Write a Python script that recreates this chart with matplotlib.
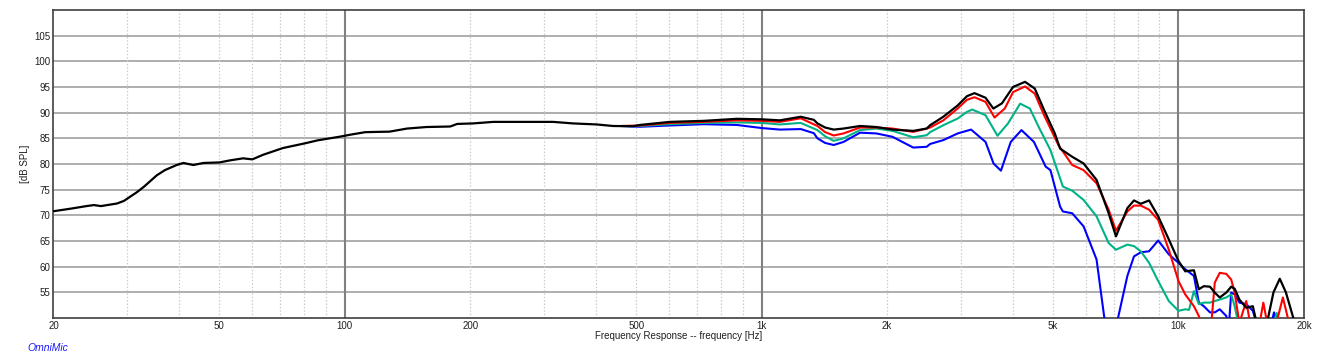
import numpy as np
import matplotlib
matplotlib.use("Agg")
import matplotlib.pyplot as plt
from matplotlib.ticker import FixedLocator, FixedFormatter, NullLocator

plt.rcParams['font.family'] = ['Liberation Sans', 'DejaVu Sans']

# black trace (full band)
black_f = [20, 22, 24, 25, 26, 28.4, 29.5, 31.7, 33, 35.4, 37, 39.5, 41, 43.3,
           45.8, 50, 53, 57, 60, 63.7, 71, 80, 86, 97, 103, 112, 128, 141, 157,
           179, 186, 203, 227, 268, 316, 353, 402, 440, 492, 510, 602, 726, 872,
           1000, 1106, 1241, 1334, 1361, 1420, 1489, 1572, 1722, 1884, 2060,
           2310, 2488, 2536, 2728, 2953, 3108, 3240, 3444, 3596, 3770, 4010,
           4284, 4520, 4760, 5050, 5200, 5560, 5920, 6360, 6800, 7080, 7540,
           7820, 8120, 8500, 8940, 9480, 10000, 10380, 10890, 11190, 11500,
           11900, 12220, 12560, 13020, 13380, 13640, 14000, 14540, 15080,
           15500, 16000, 16400, 16900, 17500, 18100, 18860, 19500, 20000]
black_db = [70.8, 71.3, 71.8, 72.0, 71.8, 72.3, 72.8, 74.5, 75.6, 77.8, 78.8,
            79.8, 80.2, 79.8, 80.2, 80.3, 80.7, 81.1, 80.9, 81.8, 83.1, 84.0,
            84.6, 85.3, 85.7, 86.2, 86.3, 86.9, 87.2, 87.3, 87.8, 87.9, 88.2,
            88.2, 88.2, 87.9, 87.7, 87.4, 87.35, 87.6, 88.2, 88.4, 88.8, 88.7,
            88.5, 89.2, 88.6, 87.9, 87.1, 86.7, 86.9, 87.4, 87.2, 86.7, 86.45,
            86.9, 87.55, 89.2, 91.4, 93.2, 93.8, 92.9, 90.8, 91.8, 95.0, 96.0,
            94.7, 90.5, 85.95, 83.0, 81.4, 80.1, 76.9, 70.4, 65.9, 71.4, 72.9,
            72.25, 72.9, 69.8, 65.3, 61.1, 59.1, 59.3, 55.6, 56.2, 56.1, 54.95,
            54.0, 54.95, 56.1, 55.7, 53.6, 52.0, 52.3, 48.0, 46.0, 50.0, 55.0,
            57.65, 55.0, 50.0, 46.0, 45.0]

red_f = [460, 510, 602, 726, 872, 1000, 1106, 1241, 1361, 1420, 1489, 1572,
         1722, 1884, 2060, 2310, 2488, 2536, 2728, 2953, 3108, 3240, 3444,
         3620, 3830, 4010, 4284, 4520, 4760, 5150, 5560, 5920, 6360, 6800,
         7080, 7540, 7820, 8120, 8500, 8940, 9480, 10000, 10380, 10890, 11190,
         11500, 11900, 12020, 12220, 12560, 13020, 13380, 13640, 14000, 14540,
         15000, 15500, 15980, 16500, 17300, 17800, 18300, 18700, 20000]
red_db = [87.4, 87.5, 88.0, 88.2, 88.5, 88.4, 88.2, 88.9, 87.4, 86.2, 85.55,
          85.95, 87.1, 87.1, 86.9, 86.25, 86.9, 87.1, 88.5, 90.8, 92.5, 93.0,
          92.1, 89.05, 90.8, 94.0, 95.1, 93.7, 89.5, 83.7, 79.8, 78.8, 76.25,
          71.1, 67.0, 70.75, 71.9, 71.9, 71.1, 69.1, 63.3, 57.2, 54.6, 52.3,
          50.4, 47.0, 47.0, 50.0, 56.9, 58.8, 58.6, 57.5, 54.95, 49.0, 53.3,
          47.0, 47.0, 53.0, 47.0, 50.0, 54.0, 50.0, 46.0, 45.0]

green_f = [460, 510, 602, 726, 872, 1000, 1106, 1241, 1361, 1420, 1489, 1572,
           1722, 1884, 2060, 2310, 2488, 2536, 2728, 2953, 3108, 3200, 3444,
           3680, 3900, 4170, 4400, 4640, 4930, 5200, 5280, 5560, 5920, 6360,
           6800, 7080, 7540, 7820, 8120, 8500, 8940, 9480, 10000, 10380, 10600,
           10890, 11190, 11500, 11900, 12220, 12560, 13020, 13380, 13640,
           14000, 16800, 17200, 17600, 20000]
green_db = [87.4, 87.4, 87.75, 88.0, 88.1, 88.0, 87.7, 88.0, 86.6, 85.4, 84.5,
            85.0, 86.6, 86.9, 86.45, 85.2, 85.6, 86.2, 87.55, 88.85, 90.15,
            90.6, 89.5, 85.5, 87.9, 91.75, 90.8, 86.9, 82.7, 77.2, 75.6, 74.8,
            73.0, 69.8, 64.6, 63.3, 64.3, 64.0, 63.0, 60.75, 57.2, 53.3, 51.4,
            51.7, 51.6, 55.25, 52.7, 53.0, 53.0, 53.3, 53.6, 54.0, 54.6, 52.3,
            48.0, 48.0, 51.0, 48.0, 45.0]

blue_f = [460, 510, 602, 726, 872, 1000, 1106, 1241, 1334, 1361, 1420, 1489,
          1572, 1722, 1884, 2060, 2310, 2488, 2536, 2728, 2953, 3180, 3444,
          3600, 3750, 3960, 4200, 4500, 4800, 4930, 5200, 5280, 5560, 5920,
          6360, 6630, 6800, 7080, 7160, 7540, 7820, 8120, 8500, 8940, 9480,
          10000, 10380, 10890, 11190, 11500, 11900, 12220, 12560, 13020, 13200,
          13380, 13640, 14000, 14540, 15080, 15500, 16600, 16950, 17300, 20000]
blue_db = [87.4, 87.25, 87.5, 87.75, 87.6, 87.0, 86.7, 86.8, 86.0, 85.0, 84.1,
           83.7, 84.3, 86.1, 85.95, 85.3, 83.2, 83.35, 83.9, 84.65, 85.95,
           86.7, 84.3, 80.1, 78.7, 84.3, 86.6, 84.3, 79.5, 78.8, 71.7, 70.75,
           70.4, 67.85, 61.4, 50.4, 45.0, 45.0, 50.0, 58.2, 62.0, 62.8, 63.0,
           65.1, 62.4, 60.75, 59.5, 58.2, 53.0, 52.3, 51.1, 51.1, 51.7, 50.4,
           48.0, 54.95, 54.6, 53.0, 52.7, 51.4, 48.0, 48.0, 51.1, 48.0, 45.0]

tick_freqs = [20, 50, 100, 200, 500, 1000, 2000, 5000, 10000, 20000]
tick_labels = ["20", "50", "100", "200", "500", "1k", "2k", "5k", "10k", "20k"]
db_ticks = [55, 60, 65, 70, 75, 80, 85, 90, 95, 100, 105]

fig = plt.figure(figsize=(13.17, 3.62), dpi=100)
ax = fig.add_axes([0.0406, 0.1215, 0.9495, 0.851])
ax.set_xscale("log")
ax.set_xlim(20, 20000)
ax.set_ylim(50, 110)

# grid: dB lines, decade lines, dotted minor lines
for v in db_ticks:
    ax.axhline(v, color="#a8a8a8", lw=1.3, zorder=1)
for dec in [10, 100, 1000, 10000]:
    for m in range(2, 10):
        f = dec * m
        if 20 < f < 20000:
            ax.axvline(f, color="#cccccc", lw=0.9, ls=(0, (1.2, 1.5)), zorder=1)
for f in [100, 1000, 10000]:
    ax.axvline(f, color="#808080", lw=1.5, zorder=1)

# traces, drawn back to front
line_kw = dict(solid_joinstyle="round", solid_capstyle="round")
ax.plot(blue_f, blue_db, color="#0000ff", lw=1.5, zorder=3, **line_kw)
ax.plot(green_f, green_db, color="#00b387", lw=1.5, zorder=4, **line_kw)
ax.plot(red_f, red_db, color="#ff0000", lw=1.5, zorder=5, **line_kw)
ax.plot(black_f, black_db, color="#000000", lw=1.6, zorder=6, **line_kw)

ax.xaxis.set_major_locator(FixedLocator(tick_freqs))
ax.xaxis.set_major_formatter(FixedFormatter(tick_labels))
ax.xaxis.set_minor_locator(NullLocator())
ax.set_yticks(db_ticks)
ax.tick_params(length=0, labelsize=7, colors="#202020")
ax.tick_params(axis="x", pad=2)
ax.tick_params(axis="y", pad=2)

for s in ax.spines.values():
    s.set_color("#404040")
    s.set_linewidth(1.2)

ax.set_ylabel("[dB SPL]", fontsize=7, color="#202020", labelpad=3)
ax.set_xlabel("Frequency Response -- frequency [Hz]", fontsize=7,
              color="#202020", labelpad=0)
fig.text(0.021, 0.03, "OmniMic", fontsize=7.5, color="#1a1aff",
         style="italic")

fig.savefig("out.png", dpi=100)
